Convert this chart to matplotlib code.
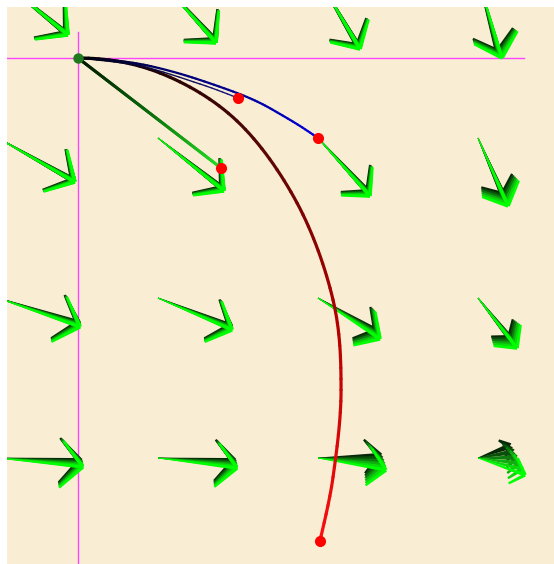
import numpy as np
import matplotlib.pyplot as plt
from matplotlib.collections import LineCollection
from matplotlib.colors import LinearSegmentedColormap
from matplotlib.path import Path
from matplotlib.patches import PathPatch

# sample points of the direction field
grid_x = [-0.5, 0.5, 1.5, 2.5]
grid_y = [0.5, -0.5, -1.5, -2.5]

# field vectors (dx, dy) per row, first frame (dark) and last frame (bright)
field_first = [
    [(0.425, -0.344), (0.356, -0.388), (0.250, -0.425), (0.125, -0.463)],
    [(0.469, -0.263), (0.400, -0.313), (0.313, -0.338), (0.156, -0.356)],
    [(0.500, -0.156), (0.450, -0.175), (0.363, -0.206), (0.200, -0.250)],
    [(0.513, -0.019), (0.475, -0.019), (0.388, 0.013), (0.200, 0.075)],
]
field_last = [
    [(0.438, -0.356), (0.363, -0.406), (0.263, -0.444), (0.150, -0.500)],
    [(0.481, -0.275), (0.413, -0.331), (0.325, -0.363), (0.188, -0.425)],
    [(0.513, -0.181), (0.463, -0.200), (0.388, -0.256), (0.244, -0.313)],
    [(0.531, -0.056), (0.494, -0.063), (0.425, -0.075), (0.294, -0.106)],
]

# trajectories from the origin
traj_red_x = [0, 0.5125, 0.994, 1.369, 1.594, 1.644, 1.594, 1.5125]
traj_red_y = [0, -0.094, -0.394, -0.906, -1.5125, -2.075, -2.619, -3.019]
traj_blue_x = [0, 0.2, 0.3875, 0.575, 0.7625, 0.994, 1.1375, 1.2625, 1.3875, 1.5]
traj_blue_y = [0, -0.0125, -0.0375, -0.081, -0.1375, -0.219, -0.281, -0.35, -0.425, -0.5]
traj_navy_x = [0, 0.3875, 0.7625, 1.0]
traj_navy_y = [0, -0.05, -0.1625, -0.25]
traj_line_x = [0, 0.894]
traj_line_y = [0, -0.6875]

end_x = [1.5, 1.0, 0.894, 1.5125]
end_y = [-0.5, -0.25, -0.6875, -3.019]

n_frames = 6
px = 1 / 160.0  # one pixel in data units


def wedge(ax, p0, p1, w0, w1, color, z):
    p0 = np.asarray(p0); p1 = np.asarray(p1)
    d = p1 - p0
    L = np.hypot(*d)
    if L == 0:
        return
    n = np.array([-d[1], d[0]]) / L
    pts = [p0 + n * w0 / 2, p1 + n * w1 / 2, p1 - n * w1 / 2, p0 - n * w0 / 2]
    ax.fill(*zip(*pts), color=color, lw=0, zorder=z)


def draw_arrow(ax, x, y, dx, dy, color, z, thick):
    tail = np.array([x, y])
    tip = tail + [dx, dy]
    L = np.hypot(dx, dy)
    back = -np.array([dx, dy]) / L
    hl = 0.37 * L
    wedge(ax, tail, tip, 0.8 * px, thick * px, color, z)
    for a in (np.radians(47), -np.radians(47)):
        r = np.array([[np.cos(a), -np.sin(a)], [np.sin(a), np.cos(a)]])
        end = tip + r @ back * hl
        wedge(ax, tip, end, thick * px, 2.2 * px, color, z)


def split_cubic(q):
    # de Casteljau halving, both halves trace the same curve
    a, b, c, d = q
    ab, bc, cd = (a + b) / 2, (b + c) / 2, (c + d) / 2
    abc, bcd = (ab + bc) / 2, (bc + cd) / 2
    m = (abc + bcd) / 2
    return [(a, ab, abc, m), (m, bcd, cd, d)]


def smooth_line(ax, xs, ys, cmap, lw, z, start_dir=None):
    # one cubic piece per interval, tangents taken from the neighbours
    p = np.column_stack([xs, ys]).astype(float)
    n = len(p)
    pieces = []
    for i in range(n - 1):
        a = p[max(i - 1, 0)]; b = p[i]; c = p[i + 1]; d = p[min(i + 2, n - 1)]
        c1 = b + (c - a) / 6
        if i == 0 and start_dir is not None:
            c1 = b + np.asarray(start_dir) * np.hypot(*(c - b)) / 3
        q = [(b, c1, c - (d - b) / 6, c)]
        for _ in range(3):
            q = [h for piece in q for h in split_cubic(piece)]
        pieces += q
    m = len(pieces)
    for k, (a, b, c, d) in enumerate(pieces):
        path = Path([a, b, c, d], [Path.MOVETO, Path.CURVE4, Path.CURVE4, Path.CURVE4])
        ax.add_patch(PathPatch(path, fill=False, lw=lw, ec=cmap((k + 0.5) / m),
                               capstyle='round', zorder=z))


def gradient_line(ax, xs, ys, cmap, lw, z):
    fx = np.linspace(xs[0], xs[-1], 120); fy = np.linspace(ys[0], ys[-1], 120)
    pts = np.column_stack([fx, fy]).reshape(-1, 1, 2)
    segs = np.concatenate([pts[:-1], pts[1:]], axis=1)
    lc = LineCollection(segs, cmap=cmap, linewidths=lw, zorder=z, capstyle='round')
    lc.set_array(np.linspace(0, 1, len(segs)))
    ax.add_collection(lc)


fig = plt.figure(figsize=(5.54, 5.64), dpi=100)
fig.patch.set_facecolor('white')
ax = fig.add_axes([7 / 554, 0, 547 / 554, 557 / 564])
ax.set_xlim(-0.44375, 2.975)
ax.set_ylim(-3.1625, 0.31875)
ax.set_aspect('equal')
ax.axis('off')
ax.add_patch(plt.Rectangle((-0.44375, -3.1625), 3.41875, 3.48125,
                           color='#f9edd3', zorder=0))

# coordinate axes
ax.plot([-0.5, 2.79], [0, 0], color='#ff44ff', lw=1, zorder=1)
ax.plot([0, 0], [0.1625, -3.3], color='#ff44ff', lw=1, zorder=1)

# direction field, dark frames underneath, bright on top
green = LinearSegmentedColormap.from_list('fld', ['#062806', '#0d6a0d', '#10c010', '#00ff00'])
for i, gy in enumerate(grid_y):
    for j, gx in enumerate(grid_x):
        v0 = np.array(field_first[i][j]); v1 = np.array(field_last[i][j])
        for k in range(n_frames):
            f = k / (n_frames - 1)
            v = v0 + (v1 - v0) * f
            draw_arrow(ax, gx, gy, v[0], v[1], green(f), 2 + f, 6.0 - 2.5 * f)

# trajectories
cm_red = LinearSegmentedColormap.from_list('r', [(0, '#000000'), (0.3, '#4a0606'),
                                                 (0.6, '#b00000'), (1, '#ff1010')])
cm_blue = LinearSegmentedColormap.from_list('b', [(0, '#000000'), (0.3, '#00006a'), (1, '#0000e0')])
cm_navy = LinearSegmentedColormap.from_list('n', ['#000010', '#1a1a90'])
cm_green = LinearSegmentedColormap.from_list('g', [(0, '#001400'), (0.5, '#0a6a0a'), (1, '#22e022')])

smooth_line(ax, traj_red_x, traj_red_y, cm_red, 2.3, 5, start_dir=(1, 0))
smooth_line(ax, traj_navy_x, traj_navy_y, cm_navy, 1.0, 5)
smooth_line(ax, traj_blue_x, traj_blue_y, cm_blue, 1.6, 6)
gradient_line(ax, traj_line_x, traj_line_y, cm_green, 2.2, 6)

ax.plot(end_x, end_y, 'o', color='#ff0000', ms=8, mec='none', zorder=8)
ax.plot([0], [0], 'o', color='#1f7a1f', ms=7.5, mec='none', zorder=8)

fig.savefig('out.png', dpi=100, facecolor='white')
